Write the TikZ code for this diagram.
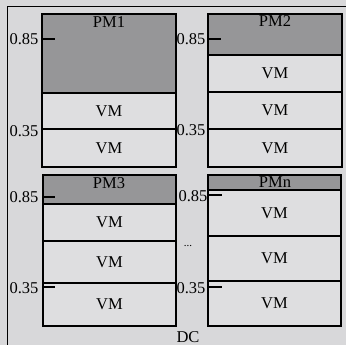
\documentclass[tikz,border=0pt]{standalone}
\usepackage{fontspec}
\setmainfont{Liberation Serif}
\definecolor{bg}{RGB}{216,216,218}
\definecolor{vmfill}{RGB}{222,222,224}
\definecolor{pmfill}{RGB}{150,150,152}
\begin{document}
\begin{tikzpicture}[x=1pt,y=-1pt,
  every node/.style={font=\fontsize{16.5}{18}\selectfont, inner sep=0pt},
  vmbox/.style={draw, line width=1.2pt, fill=vmfill},
  pmbox/.style={draw, line width=1.2pt, fill=pmfill},
  tick/.style={line width=1.2pt}]
\fill[bg] (0,0) rectangle (346,345);
\useasboundingbox (0,0) rectangle (346,345);
\draw[line width=1pt] (7,345) -- (7,7) -- (346,7);
% PM1
\draw[pmbox] (42,14) rectangle (176,93);
\draw[vmbox] (42,93) rectangle (176,129) node[midway] (a1) {VM};
\draw[vmbox] (42,129) rectangle (176,167) node[midway] (a2) {VM};
\node (pm1) at (109,22) {PM1};
% PM2
\draw[pmbox] (208,14) rectangle (342,55);
\draw[vmbox] (208,55) rectangle (342,92) node[midway] (b1) {VM};
\draw[vmbox] (208,92) rectangle (342,129) node[midway] (b2) {VM};
\draw[vmbox] (208,129) rectangle (342,167) node[midway] (b3) {VM};
\node (pm2) at (275,21) {PM2};
% PM3
\draw[pmbox] (43,175) rectangle (176,204);
\draw[vmbox] (43,204) rectangle (176,241) node[midway] (c1) {VM};
\draw[vmbox] (43,241) rectangle (176,283) node[midway] (c2) {VM};
\draw[vmbox] (43,283) rectangle (176,326) node[midway] (c3) {VM};
\node (pm3) at (109,183) {PM3};
% PMn
\draw[pmbox] (208,175) rectangle (341,190);
\draw[vmbox] (208,190) rectangle (341,236) node[midway] (d1) {VM};
\draw[vmbox] (208,236) rectangle (341,281) node[midway] (d2) {VM};
\draw[vmbox] (208,281) rectangle (341,326) node[midway] (d3) {VM};
\node (pmn) at (275,182) {PMn};
% ticks and labels
\node (l1) at (24,39) {0.85};
\draw[tick] (42,39) -- (55,39);
\node (l2) at (24,131) {0.35};
\node (l3) at (191,39) {0.85};
\draw[tick] (208,39) -- (221,39);
\node (l4) at (191,130) {0.35};
\node (l5) at (24,197) {0.85};
\draw[tick] (43,197) -- (55,197);
\node (l6) at (24,288) {0.35};
\draw[tick] (43,287) -- (55,287);
\node (l7) at (193,196) {0.85};
\draw[tick] (208,195) -- (222,195);
\node[font=\fontsize{11}{12}\selectfont] (dots) at (188,246) {...};
\node (l8) at (191,288) {0.35};
\draw[tick] (208,287) -- (222,287);
\node (dc) at (188,337) {DC};
\end{tikzpicture}
\end{document}
